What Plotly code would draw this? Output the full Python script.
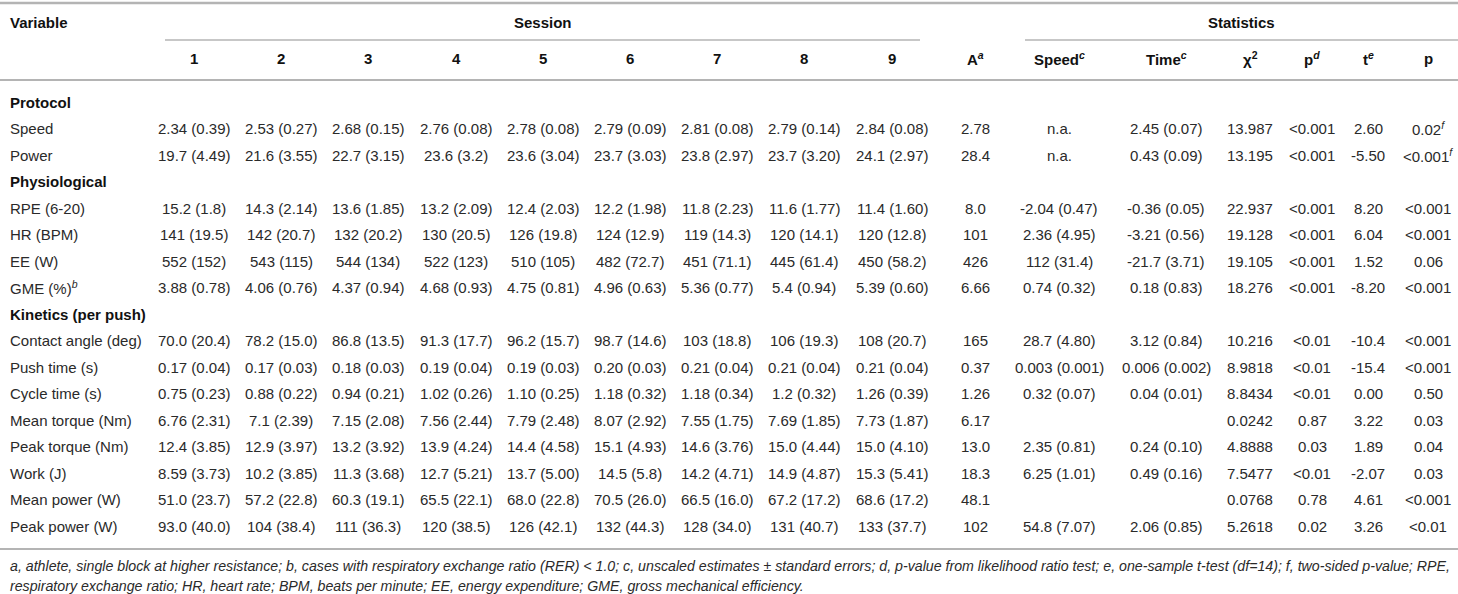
import plotly.graph_objects as go

# %% table content

variables = ["Speed", "Power", "RPE (6-20)", "HR (BPM)", "EE (W)", "GME (%)<sup><i>b</i></sup>",
             "Contact angle (deg)", "Push time (s)", "Cycle time (s)", "Mean torque (Nm)",
             "Peak torque (Nm)", "Work (J)", "Mean power (W)", "Peak power (W)"]
sections = {"Protocol": 0, "Physiological": 2, "Kinetics (per push)": 6}

session_1 = ["2.34 (0.39)", "19.7 (4.49)", "15.2 (1.8)", "141 (19.5)", "552 (152)", "3.88 (0.78)", "70.0 (20.4)", "0.17 (0.04)", "0.75 (0.23)", "6.76 (2.31)", "12.4 (3.85)", "8.59 (3.73)", "51.0 (23.7)", "93.0 (40.0)"]
session_2 = ["2.53 (0.27)", "21.6 (3.55)", "14.3 (2.14)", "142 (20.7)", "543 (115)", "4.06 (0.76)", "78.2 (15.0)", "0.17 (0.03)", "0.88 (0.22)", "7.1 (2.39)", "12.9 (3.97)", "10.2 (3.85)", "57.2 (22.8)", "104 (38.4)"]
session_3 = ["2.68 (0.15)", "22.7 (3.15)", "13.6 (1.85)", "132 (20.2)", "544 (134)", "4.37 (0.94)", "86.8 (13.5)", "0.18 (0.03)", "0.94 (0.21)", "7.15 (2.08)", "13.2 (3.92)", "11.3 (3.68)", "60.3 (19.1)", "111 (36.3)"]
session_4 = ["2.76 (0.08)", "23.6 (3.2)", "13.2 (2.09)", "130 (20.5)", "522 (123)", "4.68 (0.93)", "91.3 (17.7)", "0.19 (0.04)", "1.02 (0.26)", "7.56 (2.44)", "13.9 (4.24)", "12.7 (5.21)", "65.5 (22.1)", "120 (38.5)"]
session_5 = ["2.78 (0.08)", "23.6 (3.04)", "12.4 (2.03)", "126 (19.8)", "510 (105)", "4.75 (0.81)", "96.2 (15.7)", "0.19 (0.03)", "1.10 (0.25)", "7.79 (2.48)", "14.4 (4.58)", "13.7 (5.00)", "68.0 (22.8)", "126 (42.1)"]
session_6 = ["2.79 (0.09)", "23.7 (3.03)", "12.2 (1.98)", "124 (12.9)", "482 (72.7)", "4.96 (0.63)", "98.7 (14.6)", "0.20 (0.03)", "1.18 (0.32)", "8.07 (2.92)", "15.1 (4.93)", "14.5 (5.8)", "70.5 (26.0)", "132 (44.3)"]
session_7 = ["2.81 (0.08)", "23.8 (2.97)", "11.8 (2.23)", "119 (14.3)", "451 (71.1)", "5.36 (0.77)", "103 (18.8)", "0.21 (0.04)", "1.18 (0.34)", "7.55 (1.75)", "14.6 (3.76)", "14.2 (4.71)", "66.5 (16.0)", "128 (34.0)"]
session_8 = ["2.79 (0.14)", "23.7 (3.20)", "11.6 (1.77)", "120 (14.1)", "445 (61.4)", "5.4 (0.94)", "106 (19.3)", "0.21 (0.04)", "1.2 (0.32)", "7.69 (1.85)", "15.0 (4.44)", "14.9 (4.87)", "67.2 (17.2)", "131 (40.7)"]
session_9 = ["2.84 (0.08)", "24.1 (2.97)", "11.4 (1.60)", "120 (12.8)", "450 (58.2)", "5.39 (0.60)", "108 (20.7)", "0.21 (0.04)", "1.26 (0.39)", "7.73 (1.87)", "15.0 (4.10)", "15.3 (5.41)", "68.6 (17.2)", "133 (37.7)"]
athlete = ["2.78", "28.4", "8.0", "101", "426", "6.66", "165", "0.37", "1.26", "6.17", "13.0", "18.3", "48.1", "102"]
speed_est = ["n.a.", "n.a.", "-2.04 (0.47)", "2.36 (4.95)", "112 (31.4)", "0.74 (0.32)", "28.7 (4.80)", "0.003 (0.001)", "0.32 (0.07)", "", "2.35 (0.81)", "6.25 (1.01)", "", "54.8 (7.07)"]
time_est = ["2.45 (0.07)", "0.43 (0.09)", "-0.36 (0.05)", "-3.21 (0.56)", "-21.7 (3.71)", "0.18 (0.83)", "3.12 (0.84)", "0.006 (0.002)", "0.04 (0.01)", "", "0.24 (0.10)", "0.49 (0.16)", "", "2.06 (0.85)"]
chi2 = ["13.987", "13.195", "22.937", "19.128", "19.105", "18.276", "10.216", "8.9818", "8.8434", "0.0242", "4.8888", "7.5477", "0.0768", "5.2618"]
p_lr = ["<0.001", "<0.001", "<0.001", "<0.001", "<0.001", "<0.001", "<0.01", "<0.01", "<0.01", "0.87", "0.03", "<0.01", "0.78", "0.02"]
t_stat = ["2.60", "-5.50", "8.20", "6.04", "1.52", "-8.20", "-10.4", "-15.4", "0.00", "3.22", "1.89", "-2.07", "4.61", "3.26"]
p_t = ["0.02", "<0.001", "<0.001", "<0.001", "0.06", "<0.001", "<0.001", "<0.001", "0.50", "0.03", "0.04", "0.03", "<0.001", "<0.01"]
p_t_note = ["f", "f", "", "", "", "", "", "", "", "", "", "", "", ""]

col_headers = ["1", "2", "3", "4", "5", "6", "7", "8", "9", "A<sup><i>a</i></sup>",
               "Speed<sup><i>c</i></sup>", "Time<sup><i>c</i></sup>", "χ<sup>2</sup>",
               "p<sup><i>d</i></sup>", "t<sup><i>e</i></sup>", "p"]

footnote = ["a, athlete, single block at higher resistance; b, cases with respiratory exchange ratio (RER) &lt; 1.0; "
            "c, unscaled estimates ± standard errors; d, p-value from likelihood ratio test; e, one-sample t-test (df=14); "
            "f, two-sided p-value; RPE,",
            "respiratory exchange ratio; HR, heart rate; BPM, beats per minute; EE, energy expenditure; "
            "GME, gross mechanical efficiency."]

# %% layout

W, H = 1458, 594
FONT = "Liberation Sans, Arial, Helvetica, sans-serif"
FS = 15
TXT = "#2a2a2a"
LINE = "#b4b4b4"

columns = [session_1, session_2, session_3, session_4, session_5, session_6, session_7,
           session_8, session_9, athlete, speed_est, time_est, chi2, p_lr, t_stat, p_t]
col_x = [194, 281, 368, 456, 543, 630, 717, 804, 892, 975, 1059, 1166, 1250, 1312, 1368, 1428]

fig = go.Figure()
fig.add_scatter(x=[0, W], y=[0, H], mode="markers", marker=dict(opacity=0), hoverinfo="skip", showlegend=False)

def txt(x, y, s, bold=False, anchor="center", size=FS, color=TXT, italic=False):
    if bold:
        s = "<b>" + s + "</b>"
    if italic:
        s = "<i>" + s + "</i>"
    fig.add_annotation(x=x, y=y, text=s, showarrow=False, xanchor=anchor, yanchor="middle",
                       font=dict(family=FONT, size=size, color=color))

# header
txt(8, 22, "Variable", bold=True, anchor="left", color="#111")
txt((col_x[0] + col_x[8]) / 2, 22, "Session", bold=True, color="#111")
txt((1025 + W) / 2, 22, "Statistics", bold=True, color="#111")
for x, h in zip(col_x, col_headers):
    txt(x, 58, h, bold=True, color="#111")

# body
y0, pitch = 102, 26.5
k = 0
for i, name in enumerate(variables):
    for sec, start in sections.items():
        if start == i:
            txt(8, y0 + k * pitch, sec, bold=True, anchor="left", color="#111")
            k += 1
    y = y0 + k * pitch
    txt(8, y, name, anchor="left")
    for j, (x, col) in enumerate(zip(col_x, columns)):
        s = col[i].replace("<", "&lt;")
        if j == len(columns) - 1 and p_t_note[i]:
            s += "<sup><i>" + p_t_note[i] + "</i></sup>"
        if s:
            txt(x, y, s)
    k += 1

# rules
rules = [(0, W, 3, 2.5), (165, 920, 40, 1.5), (1025, W, 40, 1.5), (0, W, 80, 2), (0, W, 549, 2)]
for xa, xb, yy, w in rules:
    fig.add_shape(type="line", x0=xa, x1=xb, y0=yy, y1=yy, line=dict(color=LINE, width=w))

txt(8, 566, footnote[0], anchor="left", size=14.2, italic=True)
txt(8, 586, footnote[1], anchor="left", size=14.2, italic=True)

fig.update_xaxes(range=[0, W], visible=False, fixedrange=True)
fig.update_yaxes(range=[H, 0], visible=False, fixedrange=True)
fig.update_layout(width=W, height=H, margin=dict(l=0, r=0, t=0, b=0),
                  plot_bgcolor="white", paper_bgcolor="white")

# the page body has a default 8px margin that would push the table off the window
fig.write_html("out.html", config={"displayModeBar": False},
               post_script="document.body.style.margin='0';document.body.style.overflow='hidden';")
